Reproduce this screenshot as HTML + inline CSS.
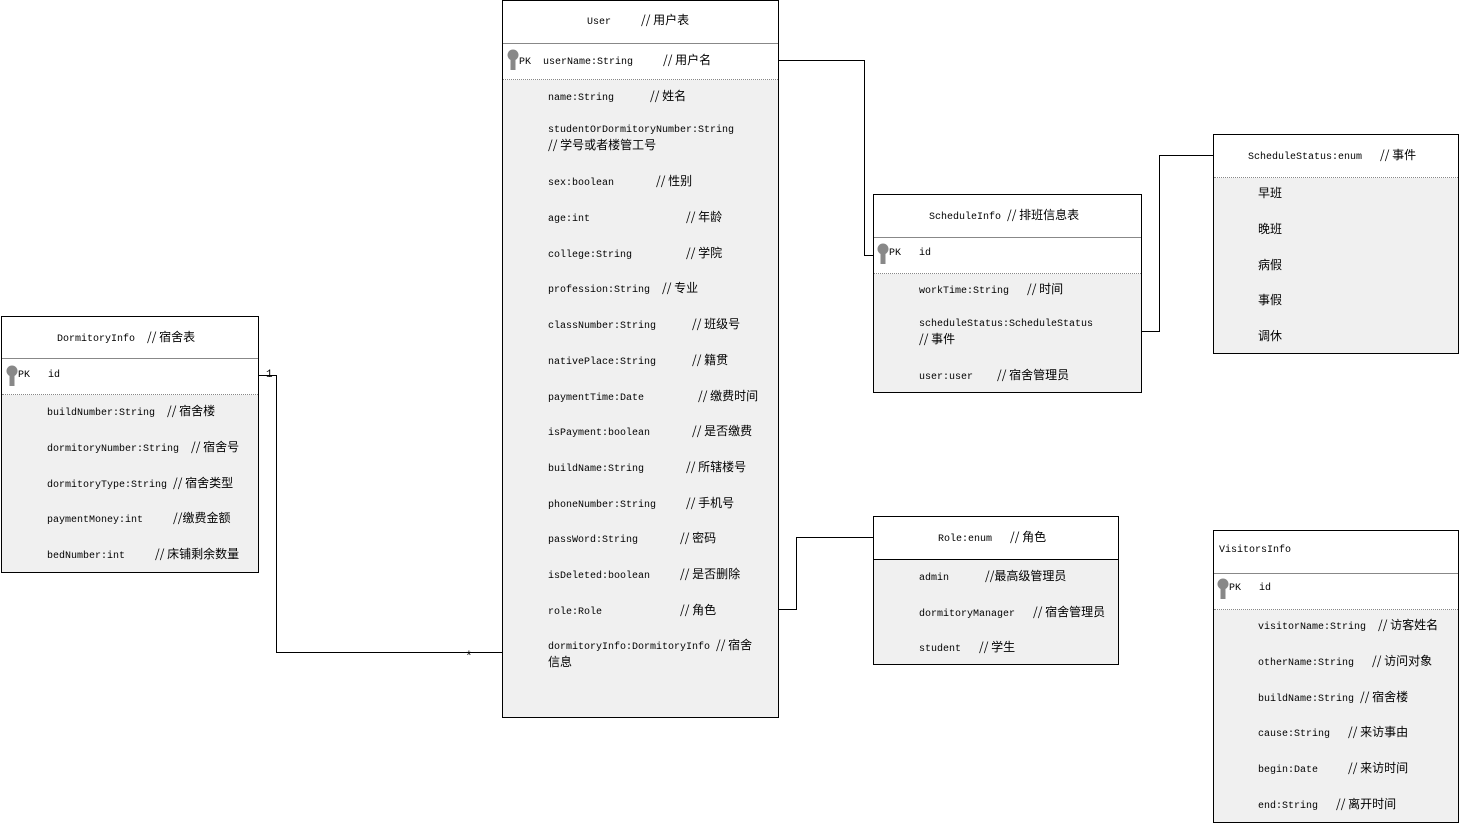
<!DOCTYPE html>
<html><head><meta charset="utf-8"><style>
body{margin:0;width:1460px;height:823px;background:#fff;position:relative;overflow:hidden;font-family:"Liberation Mono","Noto Sans CJK SC",monospace;font-size:10px;color:#000}
.box{position:absolute;border:1px solid #000;background:#f0f0f0;box-sizing:border-box}
.hd{position:absolute;left:0;right:0;top:0;background:#fff;border-bottom:1px solid #888;box-sizing:border-box}
.pk{position:absolute;left:0;right:0;background:#fff;border-bottom:1px dotted #888;box-sizing:border-box}
.t{position:absolute;white-space:nowrap;line-height:14px}
.c{font-family:"Noto Sans CJK SC",sans-serif;font-size:12px}
.key{position:absolute;width:12px;height:22px}
.l{position:absolute;background:#000}
</style></head><body>

<!-- connectors -->
<div class="l" style="left:778px;top:60px;width:87px;height:1px"></div>
<div class="l" style="left:864px;top:60px;width:1px;height:196px"></div>
<div class="l" style="left:864px;top:255px;width:10px;height:1px"></div>

<div class="l" style="left:1141px;top:331px;width:19px;height:1px"></div>
<div class="l" style="left:1159px;top:155px;width:1px;height:177px"></div>
<div class="l" style="left:1159px;top:155px;width:54px;height:1px"></div>

<div class="l" style="left:778px;top:609px;width:19px;height:1px"></div>
<div class="l" style="left:796px;top:537px;width:1px;height:73px"></div>
<div class="l" style="left:796px;top:537px;width:77px;height:1px"></div>

<div class="l" style="left:258px;top:375px;width:18px;height:1px"></div>
<div class="l" style="left:276px;top:375px;width:1px;height:278px"></div>
<div class="l" style="left:276px;top:652px;width:226px;height:1px"></div>
<div class="t" style="left:266px;top:368px;font-size:11px">1</div>
<div class="t" style="left:465px;top:650px;font-size:13px">*</div>

<!-- User -->
<div class="box" style="left:502px;top:0;width:277px;height:718px">
 <div class="hd" style="height:43px"></div>
 <div class="pk" style="top:43px;height:36px"></div>
</div>
<div class="t" style="left:587px;top:13px">User &nbsp;&nbsp;&nbsp;&nbsp;<span class="c">// 用户表</span></div>
<div class="t" style="left:519px;top:53px">PK &nbsp;userName:String &nbsp;&nbsp;&nbsp;&nbsp;<span class="c">// 用户名</span></div>
<div class="t" style="left:548px;top:89px">name:String &nbsp;&nbsp;&nbsp;&nbsp;&nbsp;<span class="c">// 姓名</span></div>
<div class="t" style="left:548px;top:124px">studentOrDormitoryNumber:String<br><span class="c">// 学号或者楼管工号</span></div>
<div class="t" style="left:548px;top:174px">sex:boolean &nbsp;&nbsp;&nbsp;&nbsp;&nbsp;&nbsp;<span class="c">// 性别</span></div>
<div class="t" style="left:548px;top:210px">age:int &nbsp;&nbsp;&nbsp;&nbsp;&nbsp;&nbsp;&nbsp;&nbsp;&nbsp;&nbsp;&nbsp;&nbsp;&nbsp;&nbsp;&nbsp;<span class="c">// 年龄</span></div>
<div class="t" style="left:548px;top:246px">college:String &nbsp;&nbsp;&nbsp;&nbsp;&nbsp;&nbsp;&nbsp;&nbsp;<span class="c">// 学院</span></div>
<div class="t" style="left:548px;top:281px">profession:String &nbsp;<span class="c">// 专业</span></div>
<div class="t" style="left:548px;top:317px">classNumber:String &nbsp;&nbsp;&nbsp;&nbsp;&nbsp;<span class="c">// 班级号</span></div>
<div class="t" style="left:548px;top:353px">nativePlace:String &nbsp;&nbsp;&nbsp;&nbsp;&nbsp;<span class="c">// 籍贯</span></div>
<div class="t" style="left:548px;top:389px">paymentTime:Date &nbsp;&nbsp;&nbsp;&nbsp;&nbsp;&nbsp;&nbsp;&nbsp;<span class="c">// 缴费时间</span></div>
<div class="t" style="left:548px;top:424px">isPayment:boolean &nbsp;&nbsp;&nbsp;&nbsp;&nbsp;&nbsp;<span class="c">// 是否缴费</span></div>
<div class="t" style="left:548px;top:460px">buildName:String &nbsp;&nbsp;&nbsp;&nbsp;&nbsp;&nbsp;<span class="c">// 所辖楼号</span></div>
<div class="t" style="left:548px;top:496px">phoneNumber:String &nbsp;&nbsp;&nbsp;&nbsp;<span class="c">// 手机号</span></div>
<div class="t" style="left:548px;top:531px">passWord:String &nbsp;&nbsp;&nbsp;&nbsp;&nbsp;&nbsp;<span class="c">// 密码</span></div>
<div class="t" style="left:548px;top:567px">isDeleted:boolean &nbsp;&nbsp;&nbsp;&nbsp;<span class="c">// 是否删除</span></div>
<div class="t" style="left:548px;top:603px">role:Role &nbsp;&nbsp;&nbsp;&nbsp;&nbsp;&nbsp;&nbsp;&nbsp;&nbsp;&nbsp;&nbsp;&nbsp;<span class="c">// 角色</span></div>
<div class="t" style="left:548px;top:638px">dormitoryInfo:DormitoryInfo <span class="c">// 宿舍<br>信息</span></div>

<!-- DormitoryInfo -->
<div class="box" style="left:1px;top:316px;width:258px;height:257px">
 <div class="hd" style="height:42px"></div>
 <div class="pk" style="top:42px;height:36px"></div>
</div>
<div class="t" style="left:57px;top:330px">DormitoryInfo &nbsp;<span class="c">// 宿舍表</span></div>
<div class="t" style="left:18px;top:369px">PK &nbsp;&nbsp;id</div>
<div class="t" style="left:47px;top:404px">buildNumber:String &nbsp;<span class="c">// 宿舍楼</span></div>
<div class="t" style="left:47px;top:440px">dormitoryNumber:String &nbsp;<span class="c">// 宿舍号</span></div>
<div class="t" style="left:47px;top:476px">dormitoryType:String <span class="c">// 宿舍类型</span></div>
<div class="t" style="left:47px;top:511px">paymentMoney:int &nbsp;&nbsp;&nbsp;&nbsp;<span class="c">//缴费金额</span></div>
<div class="t" style="left:47px;top:547px">bedNumber:int &nbsp;&nbsp;&nbsp;&nbsp;<span class="c">// 床铺剩余数量</span></div>

<!-- ScheduleInfo -->
<div class="box" style="left:873px;top:194px;width:269px;height:199px">
 <div class="hd" style="height:43px"></div>
 <div class="pk" style="top:43px;height:36px"></div>
</div>
<div class="t" style="left:929px;top:208px">ScheduleInfo <span class="c">// 排班信息表</span></div>
<div class="t" style="left:889px;top:247px">PK &nbsp;&nbsp;id</div>
<div class="t" style="left:919px;top:282px">workTime:String &nbsp;&nbsp;<span class="c">// 时间</span></div>
<div class="t" style="left:919px;top:318px">scheduleStatus:ScheduleStatus<br><span class="c">// 事件</span></div>
<div class="t" style="left:919px;top:368px">user:user &nbsp;&nbsp;&nbsp;<span class="c">// 宿舍管理员</span></div>

<!-- ScheduleStatus -->
<div class="box" style="left:1213px;top:134px;width:246px;height:220px">
 <div class="hd" style="height:43px;border-bottom:1px dotted #888"></div>
</div>
<div class="t" style="left:1248px;top:148px">ScheduleStatus:enum &nbsp;&nbsp;<span class="c">// 事件</span></div>
<div class="t c" style="left:1258px;top:186px">早班</div>
<div class="t c" style="left:1258px;top:222px">晚班</div>
<div class="t c" style="left:1258px;top:258px">病假</div>
<div class="t c" style="left:1258px;top:293px">事假</div>
<div class="t c" style="left:1258px;top:329px">调休</div>

<!-- Role -->
<div class="box" style="left:873px;top:516px;width:246px;height:149px">
 <div class="hd" style="height:43px;border-bottom:1px solid #000"></div>
</div>
<div class="t" style="left:938px;top:530px">Role:enum &nbsp;&nbsp;<span class="c">// 角色</span></div>
<div class="t" style="left:919px;top:569px">admin &nbsp;&nbsp;&nbsp;&nbsp;&nbsp;<span class="c">//最高级管理员</span></div>
<div class="t" style="left:919px;top:605px">dormitoryManager &nbsp;&nbsp;<span class="c">// 宿舍管理员</span></div>
<div class="t" style="left:919px;top:640px">student &nbsp;&nbsp;<span class="c">// 学生</span></div>

<!-- VisitorsInfo -->
<div class="box" style="left:1213px;top:530px;width:246px;height:293px">
 <div class="hd" style="height:43px"></div>
 <div class="pk" style="top:43px;height:36px"></div>
</div>
<div class="t" style="left:1219px;top:544px">VisitorsInfo</div>
<div class="t" style="left:1229px;top:582px">PK &nbsp;&nbsp;id</div>
<div class="t" style="left:1258px;top:618px">visitorName:String &nbsp;<span class="c">// 访客姓名</span></div>
<div class="t" style="left:1258px;top:654px">otherName:String &nbsp;&nbsp;<span class="c">// 访问对象</span></div>
<div class="t" style="left:1258px;top:690px">buildName:String <span class="c">// 宿舍楼</span></div>
<div class="t" style="left:1258px;top:725px">cause:String &nbsp;&nbsp;<span class="c">// 来访事由</span></div>
<div class="t" style="left:1258px;top:761px">begin:Date &nbsp;&nbsp;&nbsp;&nbsp;<span class="c">// 来访时间</span></div>
<div class="t" style="left:1258px;top:797px">end:String &nbsp;&nbsp;<span class="c">// 离开时间</span></div>

<!-- keys -->
<svg class="key" style="left:507px;top:49px" viewBox="0 0 12 22"><circle cx="6" cy="6" r="5.5" fill="#888"/><rect x="3.5" y="8" width="5" height="13" fill="#888"/></svg>
<svg class="key" style="left:6px;top:365px" viewBox="0 0 12 22"><circle cx="6" cy="6" r="5.5" fill="#888"/><rect x="3.5" y="8" width="5" height="13" fill="#888"/></svg>
<svg class="key" style="left:877px;top:243px" viewBox="0 0 12 22"><circle cx="6" cy="6" r="5.5" fill="#888"/><rect x="3.5" y="8" width="5" height="13" fill="#888"/></svg>
<svg class="key" style="left:1217px;top:578px" viewBox="0 0 12 22"><circle cx="6" cy="6" r="5.5" fill="#888"/><rect x="3.5" y="8" width="5" height="13" fill="#888"/></svg>
</body></html>
